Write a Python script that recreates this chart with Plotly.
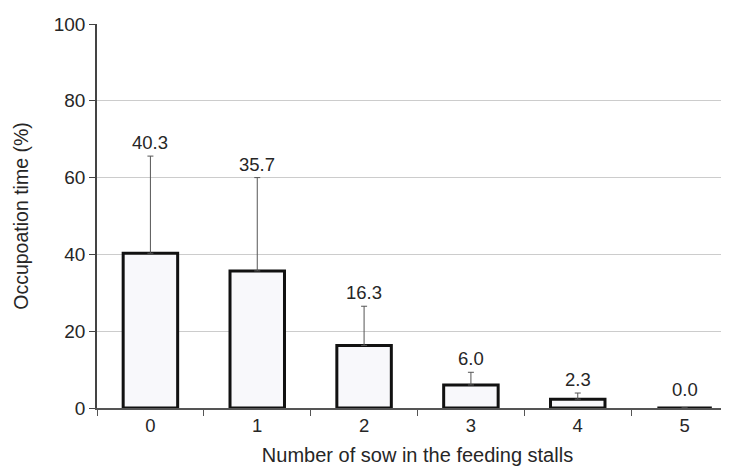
import plotly.graph_objects as go

categories = ["0", "1", "2", "3", "4", "5"]
occupation = [40.3, 35.7, 16.3, 6.0, 2.3, 0.0]
sd_upper = [25.3, 24.3, 10.2, 3.3, 1.6, 0.0]
labels = ["40.3", "35.7", "16.3", "6.0", "2.3", "0.0"]
y_ticks = [0, 20, 40, 60, 80, 100]

FONT = "Liberation Sans, Arial, sans-serif"
TXT = "#262626"

fig = go.Figure()
fig.add_trace(go.Bar(
    x=categories, y=occupation, width=0.51,
    marker=dict(color="#f8f8fb", line=dict(color="#111111", width=3)),
    error_y=dict(type="data", symmetric=False, array=sd_upper,
                 arrayminus=[0] * len(sd_upper),
                 color="#555555", thickness=1, width=3),
    showlegend=False,
))

annotations = []
for c, v, e, t in zip(categories, occupation, sd_upper, labels):
    annotations.append(dict(
        x=c, y=v + e, xref="x", yref="y", text=t, showarrow=False,
        yanchor="bottom", xanchor="center", yshift=1 if e > 0 else 6,
        font=dict(family=FONT, size=18.5, color=TXT),
    ))

fig.update_layout(
    width=730, height=458,
    margin=dict(l=89, r=0, t=16, b=58),
    plot_bgcolor="white", paper_bgcolor="white",
    font=dict(family=FONT, size=19, color=TXT),
    annotations=annotations,
)
fig.update_xaxes(
    type="category", range=[-0.5, 5.5], automargin=False,
    showline=True, linecolor="#555555", linewidth=1.5,
    ticks="outside", tickson="boundaries", ticklen=6, tickcolor="#555555",
    tickfont=dict(size=18.5),
    showgrid=False,
    title=dict(text="Number of sow in the feeding stalls", standoff=18,
               font=dict(family=FONT, size=20, color=TXT)),
)
fig.update_yaxes(
    range=[0, 100], tickvals=y_ticks, automargin=False,
    showline=True, linecolor="#444444", linewidth=1.5,
    ticks="outside", ticklen=6, tickcolor="#444444",
    tickfont=dict(size=19),
    showgrid=True, gridcolor="#cccccc", gridwidth=1,
    zeroline=False,
    title=dict(text="Occupoation time (%)", standoff=20,
               font=dict(family=FONT, size=19.5, color=TXT)),
)

fig.write_html("out.html")
